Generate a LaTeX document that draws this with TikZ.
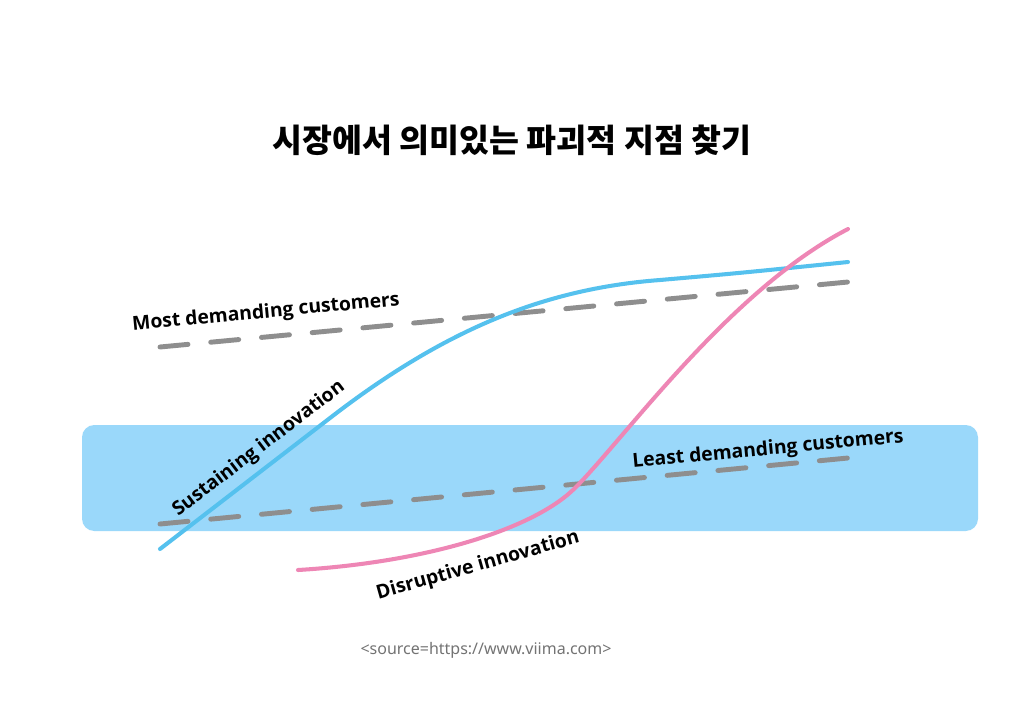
\documentclass[tikz,border=0pt]{standalone}
\usepackage{fontspec}
\usepackage{tikz}
\usetikzlibrary{calc}
\setmainfont{Open Sans}
\newfontfamily\kofont{Noto Sans CJK KR}
\newfontfamily\srcfont{Noto Sans}

\definecolor{bandblue}{HTML}{9AD8FA}
\definecolor{sustblue}{HTML}{55C1EE}
\definecolor{disrpink}{HTML}{EE86B5}
\definecolor{custgray}{HTML}{8E8E8E}

\begin{document}
\begin{tikzpicture}[
  x=0.02cm, y=-0.02cm,
  band/.style={fill=bandblue, draw=none, rounded corners=7pt},
  custline/.style={custgray, line width=2.8pt, line cap=round, dash pattern=on 16pt off 13pt},
  curve/.style={line width=2.3pt, line cap=round},
  lbl/.style={font=\fontsize{11}{13}\selectfont\bfseries, text=black, inner sep=0pt}
]
  \useasboundingbox[fill=white] (0,0) rectangle (1024,724);

  % title
  \node[font=\kofont\bfseries\fontsize{18.5}{22}\selectfont] (title) at (512,140) {시장에서 의미있는 파괴적 지점 찾기};

  % least demanding band
  \fill[band] (82,425) rectangle (978,531);

  % customer expectation lines
  \coordinate (mostA) at (160,347);
  \coordinate (mostB) at (848,282);
  \coordinate (leastA) at (160,524);
  \coordinate (leastB) at (848,458);
  \draw[custline] (mostA) -- (mostB);
  \draw[custline] (leastA) -- (leastB);

  % sustaining innovation
  \coordinate (sustA) at (160,549);
  \coordinate (sustB) at (330,418);
  \coordinate (sustC) at (660,280);
  \coordinate (sustD) at (848,262);
  \draw[curve, sustblue] (sustA) -- (sustB)
    .. controls (440,333) and (540,289) .. (sustC)
    .. controls (740,273) .. (sustD);

  % disruptive innovation
  \coordinate (disrA) at (298,570);
  \coordinate (disrB) at (575,488);
  \coordinate (disrC) at (848,229);
  \draw[curve, disrpink] (disrA)
    .. controls (430,562) and (535,528) .. (disrB)
    .. controls (625,438) and (730,290) .. (disrC);

  % labels
  \node[lbl, rotate=5.4]  (most)  at (266,313) {Most demanding customers};
  \node[lbl, rotate=5.4]  (least) at (768,450) {Least demanding customers};
  \node[lbl, rotate=37.3] (sust)  at (259,449) {Sustaining innovation};
  \node[lbl, rotate=15.8] (disr)  at (478,566) {Disruptive innovation};

  % source
  \node[font=\srcfont\fontsize{9.1}{11}\selectfont, text=black!55] (src) at (486,650) {<source=https://www.viima.com>};
\end{tikzpicture}
\end{document}
